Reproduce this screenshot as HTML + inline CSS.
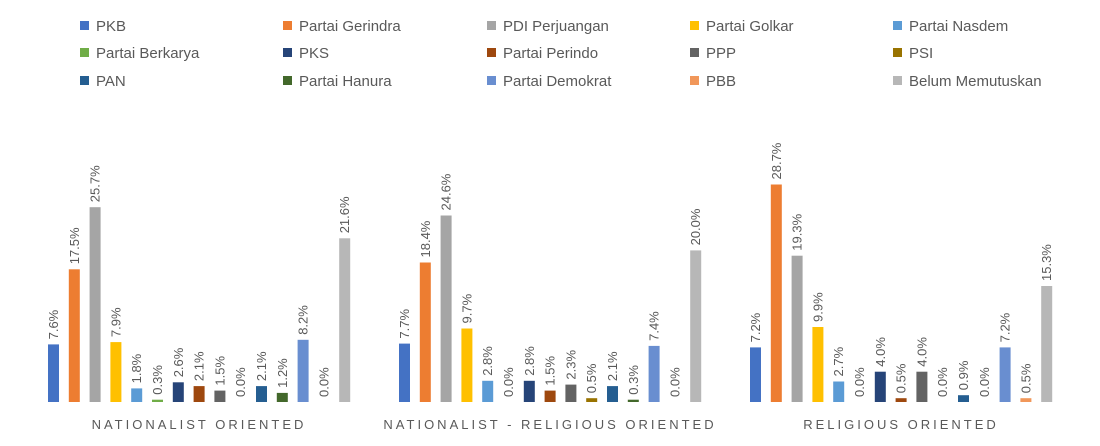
<!DOCTYPE html>
<html><head><meta charset="utf-8"><style>
body{margin:0;background:#fff;}
svg{display:block;font-family:"Liberation Sans",sans-serif;}
.l{font-size:15px;fill:#595959;}
.v{font-size:13px;fill:#595959;dominant-baseline:central;}
.c{font-size:13px;fill:#595959;letter-spacing:3px;text-anchor:middle;}
</style></head><body>
<svg width="1100" height="446" viewBox="0 0 1100 446">
<!-- legend -->
<g class="l">
<rect x="80" y="21" width="9" height="9" fill="#4472C4"/><text x="96" y="31">PKB</text>
<rect x="283" y="21" width="9" height="9" fill="#ED7D31"/><text x="299" y="31">Partai Gerindra</text>
<rect x="487" y="21" width="9" height="9" fill="#A5A5A5"/><text x="503" y="31">PDI Perjuangan</text>
<rect x="690" y="21" width="9" height="9" fill="#FFC000"/><text x="706" y="31">Partai Golkar</text>
<rect x="893" y="21" width="9" height="9" fill="#5B9BD5"/><text x="909" y="31">Partai Nasdem</text>
<rect x="80" y="48" width="9" height="9" fill="#70AD47"/><text x="96" y="58">Partai Berkarya</text>
<rect x="283" y="48" width="9" height="9" fill="#264478"/><text x="299" y="58">PKS</text>
<rect x="487" y="48" width="9" height="9" fill="#9E480E"/><text x="503" y="58">Partai Perindo</text>
<rect x="690" y="48" width="9" height="9" fill="#636363"/><text x="706" y="58">PPP</text>
<rect x="893" y="48" width="9" height="9" fill="#997300"/><text x="909" y="58">PSI</text>
<rect x="80" y="76" width="9" height="9" fill="#255E91"/><text x="96" y="86">PAN</text>
<rect x="283" y="76" width="9" height="9" fill="#43682B"/><text x="299" y="86">Partai Hanura</text>
<rect x="487" y="76" width="9" height="9" fill="#698ED0"/><text x="503" y="86">Partai Demokrat</text>
<rect x="690" y="76" width="9" height="9" fill="#F1975A"/><text x="706" y="86">PBB</text>
<rect x="893" y="76" width="9" height="9" fill="#B7B7B7"/><text x="909" y="86">Belum Memutuskan</text>
</g>

<!-- group 1 -->
<g transform="translate(48,0)">
<rect x="0" y="344.4" width="11" height="57.6" fill="#4472C4"/>
<rect x="20.8" y="269.3" width="11" height="132.7" fill="#ED7D31"/>
<rect x="41.6" y="207.2" width="11" height="194.8" fill="#A5A5A5"/>
<rect x="62.4" y="342.1" width="11" height="59.9" fill="#FFC000"/>
<rect x="83.2" y="388.4" width="11" height="13.6" fill="#5B9BD5"/>
<rect x="104" y="399.7" width="11" height="2.3" fill="#70AD47"/>
<rect x="124.8" y="382.3" width="11" height="19.7" fill="#264478"/>
<rect x="145.6" y="386.1" width="11" height="15.9" fill="#9E480E"/>
<rect x="166.4" y="390.6" width="11" height="11.4" fill="#636363"/>
<rect x="208" y="386.1" width="11" height="15.9" fill="#255E91"/>
<rect x="228.8" y="392.9" width="11" height="9.1" fill="#43682B"/>
<rect x="249.6" y="339.8" width="11" height="62.2" fill="#698ED0"/>
<rect x="291.2" y="238.3" width="11" height="163.7" fill="#B7B7B7"/>
<g class="v">
<text transform="translate(5.5,339.4) rotate(-90)">7.6%</text>
<text transform="translate(26.3,264.3) rotate(-90)">17.5%</text>
<text transform="translate(47.1,202.2) rotate(-90)">25.7%</text>
<text transform="translate(67.9,337.1) rotate(-90)">7.9%</text>
<text transform="translate(88.7,383.4) rotate(-90)">1.8%</text>
<text transform="translate(109.5,394.7) rotate(-90)">0.3%</text>
<text transform="translate(130.3,377.3) rotate(-90)">2.6%</text>
<text transform="translate(151.1,381.1) rotate(-90)">2.1%</text>
<text transform="translate(171.9,385.6) rotate(-90)">1.5%</text>
<text transform="translate(192.7,397) rotate(-90)">0.0%</text>
<text transform="translate(213.5,381.1) rotate(-90)">2.1%</text>
<text transform="translate(234.3,387.9) rotate(-90)">1.2%</text>
<text transform="translate(255.1,334.8) rotate(-90)">8.2%</text>
<text transform="translate(275.9,397) rotate(-90)">0.0%</text>
<text transform="translate(296.7,233.3) rotate(-90)">21.6%</text>
</g>
<text class="c" x="151" y="429">NATIONALIST ORIENTED</text>
</g>

<!-- group 2 -->
<g transform="translate(399,0)">
<rect x="0" y="343.6" width="11" height="58.4" fill="#4472C4"/>
<rect x="20.8" y="262.5" width="11" height="139.5" fill="#ED7D31"/>
<rect x="41.6" y="215.5" width="11" height="186.5" fill="#A5A5A5"/>
<rect x="62.4" y="328.5" width="11" height="73.5" fill="#FFC000"/>
<rect x="83.2" y="380.8" width="11" height="21.2" fill="#5B9BD5"/>
<rect x="124.8" y="380.8" width="11" height="21.2" fill="#264478"/>
<rect x="145.6" y="390.6" width="11" height="11.4" fill="#9E480E"/>
<rect x="166.4" y="384.6" width="11" height="17.4" fill="#636363"/>
<rect x="187.2" y="398.2" width="11" height="3.8" fill="#997300"/>
<rect x="208" y="386.1" width="11" height="15.9" fill="#255E91"/>
<rect x="228.8" y="399.7" width="11" height="2.3" fill="#43682B"/>
<rect x="249.6" y="345.9" width="11" height="56.1" fill="#698ED0"/>
<rect x="291.2" y="250.4" width="11" height="151.6" fill="#B7B7B7"/>
<g class="v">
<text transform="translate(5.5,338.6) rotate(-90)">7.7%</text>
<text transform="translate(26.3,257.5) rotate(-90)">18.4%</text>
<text transform="translate(47.1,210.5) rotate(-90)">24.6%</text>
<text transform="translate(67.9,323.5) rotate(-90)">9.7%</text>
<text transform="translate(88.7,375.8) rotate(-90)">2.8%</text>
<text transform="translate(109.5,397) rotate(-90)">0.0%</text>
<text transform="translate(130.3,375.8) rotate(-90)">2.8%</text>
<text transform="translate(151.1,385.6) rotate(-90)">1.5%</text>
<text transform="translate(171.9,379.6) rotate(-90)">2.3%</text>
<text transform="translate(192.7,393.2) rotate(-90)">0.5%</text>
<text transform="translate(213.5,381.1) rotate(-90)">2.1%</text>
<text transform="translate(234.3,394.7) rotate(-90)">0.3%</text>
<text transform="translate(255.1,340.9) rotate(-90)">7.4%</text>
<text transform="translate(275.9,397) rotate(-90)">0.0%</text>
<text transform="translate(296.7,245.4) rotate(-90)">20.0%</text>
</g>
<text class="c" x="151" y="429">NATIONALIST - RELIGIOUS ORIENTED</text>
</g>

<!-- group 3 -->
<g transform="translate(750,0)">
<rect x="0" y="347.4" width="11" height="54.6" fill="#4472C4"/>
<rect x="20.8" y="184.5" width="11" height="217.5" fill="#ED7D31"/>
<rect x="41.6" y="255.7" width="11" height="146.3" fill="#A5A5A5"/>
<rect x="62.4" y="327" width="11" height="75" fill="#FFC000"/>
<rect x="83.2" y="381.5" width="11" height="20.5" fill="#5B9BD5"/>
<rect x="124.8" y="371.7" width="11" height="30.3" fill="#264478"/>
<rect x="145.6" y="398.2" width="11" height="3.8" fill="#9E480E"/>
<rect x="166.4" y="371.7" width="11" height="30.3" fill="#636363"/>
<rect x="208" y="395.2" width="11" height="6.8" fill="#255E91"/>
<rect x="249.6" y="347.4" width="11" height="54.6" fill="#698ED0"/>
<rect x="270.4" y="398.2" width="11" height="3.8" fill="#F1975A"/>
<rect x="291.2" y="286" width="11" height="116" fill="#B7B7B7"/>
<g class="v">
<text transform="translate(5.5,342.4) rotate(-90)">7.2%</text>
<text transform="translate(26.3,179.5) rotate(-90)">28.7%</text>
<text transform="translate(47.1,250.7) rotate(-90)">19.3%</text>
<text transform="translate(67.9,322) rotate(-90)">9.9%</text>
<text transform="translate(88.7,376.5) rotate(-90)">2.7%</text>
<text transform="translate(109.5,397) rotate(-90)">0.0%</text>
<text transform="translate(130.3,366.7) rotate(-90)">4.0%</text>
<text transform="translate(151.1,393.2) rotate(-90)">0.5%</text>
<text transform="translate(171.9,366.7) rotate(-90)">4.0%</text>
<text transform="translate(192.7,397) rotate(-90)">0.0%</text>
<text transform="translate(213.5,390.2) rotate(-90)">0.9%</text>
<text transform="translate(234.3,397) rotate(-90)">0.0%</text>
<text transform="translate(255.1,342.4) rotate(-90)">7.2%</text>
<text transform="translate(275.9,393.2) rotate(-90)">0.5%</text>
<text transform="translate(296.7,281) rotate(-90)">15.3%</text>
</g>
<text class="c" x="151" y="429">RELIGIOUS ORIENTED</text>
</g>
</svg>
</body></html>
